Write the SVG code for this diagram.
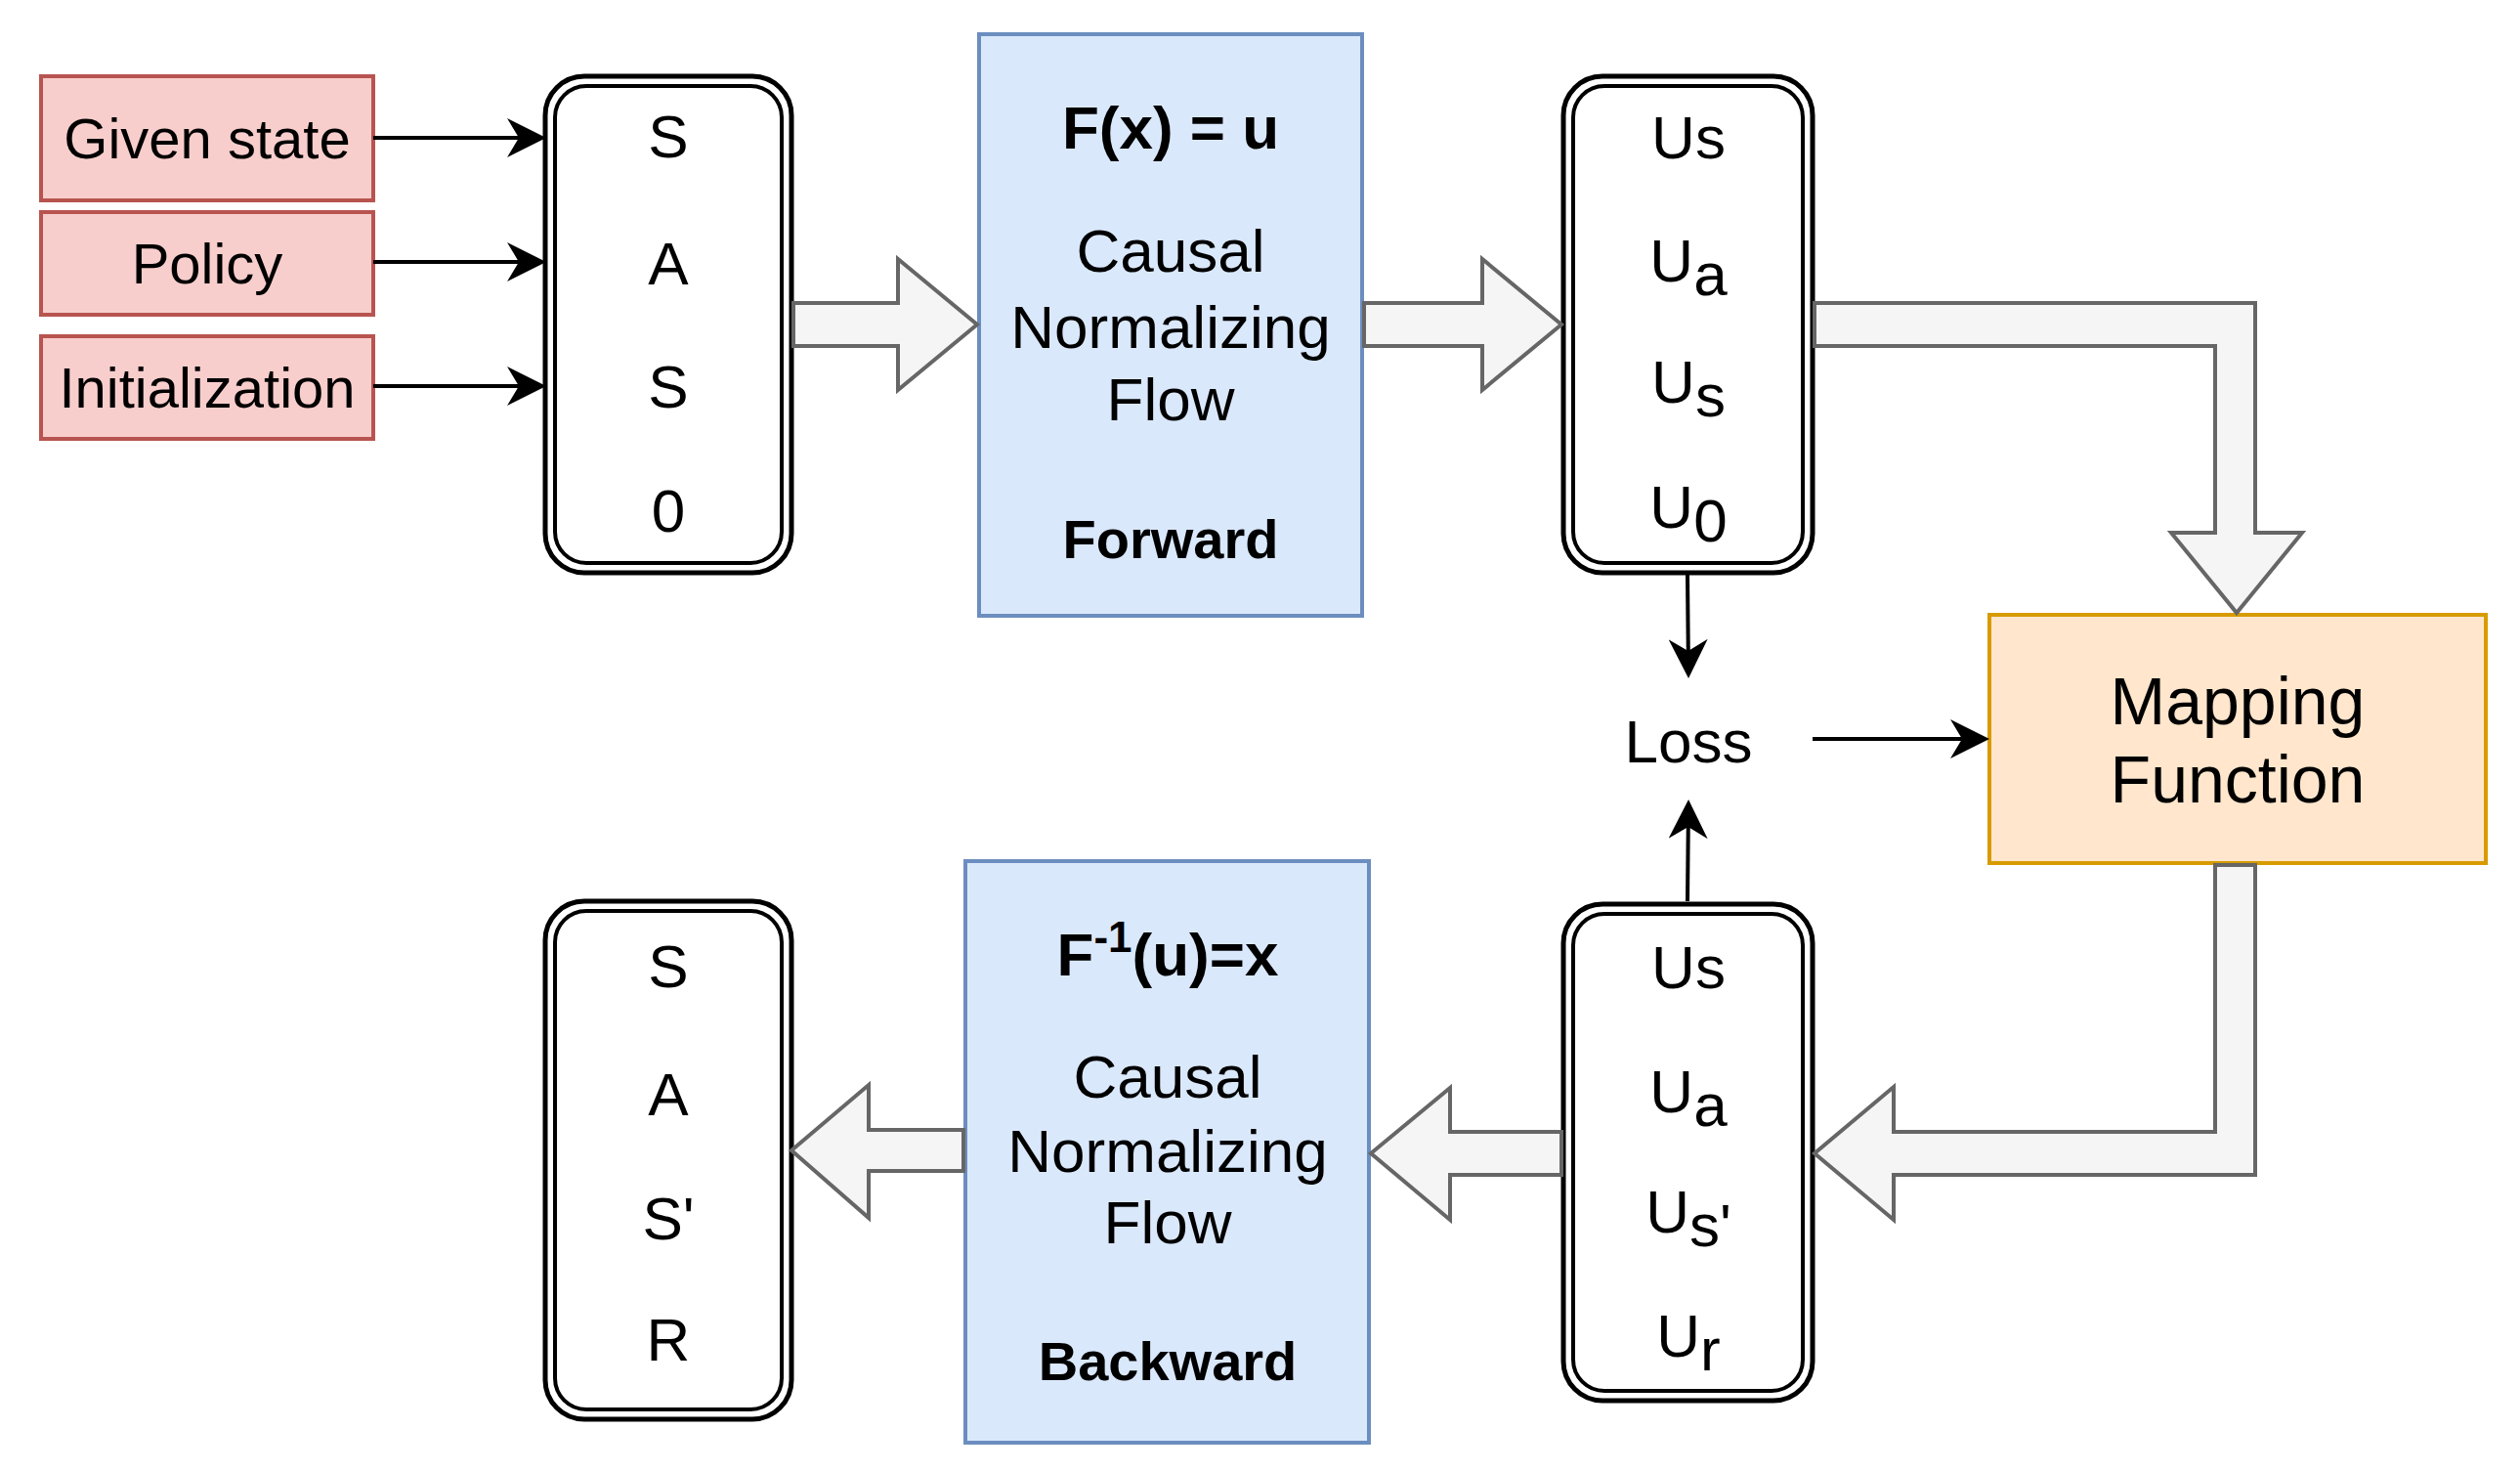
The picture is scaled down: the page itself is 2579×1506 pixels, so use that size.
<svg xmlns="http://www.w3.org/2000/svg" width="2579" height="1506" viewBox="0 0 2579 1506">
<style>
text{font-family:"Liberation Sans",Arial,sans-serif;fill:#000;text-anchor:middle}
.t{font-size:62px}
.b{font-size:62px;font-weight:bold}
.red{fill:#f8cecc;stroke:#b85450;stroke-width:4}
.blue{fill:#dae8fc;stroke:#6c8ebf;stroke-width:4}
.org{fill:#ffe6cc;stroke:#d79b00;stroke-width:4}
.o{fill:#fff;stroke:#000;stroke-width:5}
.i{fill:none;stroke:#000;stroke-width:4}
.ba{fill:#f5f5f5;stroke:#666;stroke-width:4}
.ln{stroke:#000;stroke-width:4;fill:none}
</style>
<defs>
<marker id="am" viewBox="0 0 10 10" refX="9" refY="5" markerWidth="40" markerHeight="40" markerUnits="userSpaceOnUse" orient="auto"><path d="M0,0 L10,5 L0,10 L3,5 Z" fill="#000"/></marker>
</defs>
<g id="given"><rect class="red" x="42" y="78" width="340" height="127"/><text x="212" y="162" style="font-size:58px">Given state</text></g>
<g id="policy"><rect class="red" x="42" y="217" width="340" height="105"/><text x="212" y="290" style="font-size:58px">Policy</text></g>
<g id="init"><rect class="red" x="42" y="344" width="340" height="105"/><text x="212" y="417" style="font-size:58px">Initialization</text></g>
<g id="saso"><rect class="o" x="558" y="78" width="252" height="508" rx="40"/><rect class="i" x="568" y="88" width="232" height="488" rx="32"/>
<text class="t" x="684" y="161">S</text><text class="t" x="684" y="291">A</text><text class="t" x="684" y="417">S</text><text class="t" x="684" y="544">0</text></g>
<g id="forward"><rect class="blue" x="1002" y="35" width="392" height="595"/>
<text class="b" x="1198" y="152">F(x) = u</text>
<text class="t" x="1198" y="278">Causal</text><text class="t" x="1198" y="356">Normalizing</text><text class="t" x="1198" y="430">Flow</text>
<text class="b" x="1198" y="571" style="font-size:56px">Forward</text></g>
<g id="utop"><rect class="o" x="1600" y="78" width="255" height="508" rx="40"/><rect class="i" x="1610" y="88" width="235" height="488" rx="32"/>
<text class="t" x="1728" y="162">Us</text>
<text class="t" x="1728" y="288">U<tspan dy="14">a</tspan></text>
<text class="t" x="1728" y="412">U<tspan dy="14">s</tspan></text>
<text class="t" x="1728" y="540">U<tspan dy="14">0</tspan></text></g>
<g id="mapping"><rect class="org" x="2036" y="629" width="508" height="254"/>
<text x="2290" y="741" style="font-size:68px">Mapping</text><text x="2290" y="821" style="font-size:68px">Function</text></g>
<g id="loss"><text x="1728" y="780" style="font-size:62px">Loss</text></g>
<g id="ubot"><rect class="o" x="1600" y="925" width="255" height="508" rx="40"/><rect class="i" x="1610" y="935" width="235" height="488" rx="32"/>
<text class="t" x="1728" y="1011">Us</text>
<text class="t" x="1728" y="1138">U<tspan dy="14">a</tspan></text>
<text class="t" x="1728" y="1261">U<tspan dy="14">s'</tspan></text>
<text class="t" x="1728" y="1388">U<tspan dy="14">r</tspan></text></g>
<g id="backward"><rect class="blue" x="988" y="881" width="413" height="595"/>
<text class="b" x="1195" y="998">F<tspan dy="-24" font-size="44">-1</tspan><tspan dy="24">(u)=x</tspan></text>
<text class="t" x="1195" y="1123">Causal</text><text class="t" x="1195" y="1199">Normalizing</text><text class="t" x="1195" y="1272">Flow</text>
<text class="b" x="1195" y="1412" style="font-size:56px">Backward</text></g>
<g id="sasr"><rect class="o" x="558" y="922" width="252" height="530" rx="40"/><rect class="i" x="568" y="932" width="232" height="510" rx="32"/>
<text class="t" x="684" y="1010">S</text><text class="t" x="684" y="1141">A</text><text class="t" x="684" y="1268">S'</text><text class="t" x="684" y="1392">R</text></g>
<g id="connectors">
<line class="ln" x1="382" y1="141" x2="555" y2="141" marker-end="url(#am)"/>
<line class="ln" x1="382" y1="268" x2="555" y2="268" marker-end="url(#am)"/>
<line class="ln" x1="382" y1="395" x2="555" y2="395" marker-end="url(#am)"/>
<path class="ba" d="M812,310 H919 V265 L1000,332 L919,399 V354 H812 Z"/>
<path class="ba" d="M1396,310 H1517 V265 L1598,332 L1517,399 V354 H1396 Z"/>
<path class="ba" d="M1857,310 H2308 V545 H2356 L2289,627 L2222,545 H2267 V354 H1857 Z"/>
<path class="ba" d="M2267,885 H2308 V1202 H1938 V1248 L1857,1180 L1938,1112 V1158 H2267 Z"/>
<path class="ba" d="M1598,1158 H1484 V1113 L1403,1180 L1484,1248 V1202 H1598 Z"/>
<path class="ba" d="M986,1156 H889 V1110 L810,1177 L889,1246 V1198 H986 Z"/>
<line class="ln" x1="1727" y1="588" x2="1728" y2="690" marker-end="url(#am)"/>
<line class="ln" x1="1727" y1="922" x2="1728" y2="822" marker-end="url(#am)"/>
<line class="ln" x1="1855" y1="756" x2="2032" y2="756" marker-end="url(#am)"/>
</g>
</svg>
